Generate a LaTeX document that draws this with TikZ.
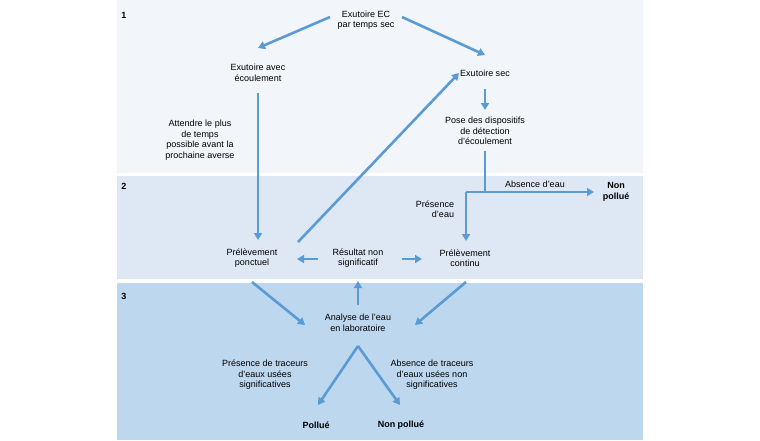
\documentclass[tikz,border=0pt]{standalone}
\usepackage{fontspec}
\setmainfont{Liberation Sans}
\usetikzlibrary{arrows.meta}
\definecolor{bA}{HTML}{F2F6FB}
\definecolor{bB}{HTML}{DEE8F4}
\definecolor{bC}{HTML}{BDD7EE}
\definecolor{arr}{HTML}{5B9BD5}
\begin{document}
\begin{tikzpicture}[x=1pt,y=-1pt,
  txt/.style={font=\fontsize{9}{10.5}\selectfont,align=center,inner sep=1pt},
  bold/.style={txt,font=\fontsize{9}{10.5}\selectfont\bfseries},
  ar/.style={draw=arr,line width=2.6pt,-{Triangle[length=7pt,width=8pt]}},
  ln/.style={draw=arr,line width=2.6pt}]
\useasboundingbox (0,0) rectangle (760,440);
\fill[white] (0,0) rectangle (760,440);
\fill[bA] (117,0) rectangle (643,173);
\fill[bB] (117,176) rectangle (643,279);
\fill[bC] (117,283) rectangle (643,440);
\node[bold] (n1) at (124,15) {1};
\node[bold] (n2) at (124,186) {2};
\node[bold] (n3) at (124,296) {3};
\node[txt] (ec) at (366,20) {Exutoire EC\\par temps sec};
\node[txt] (av) at (258,73) {Exutoire avec\\écoulement};
\node[txt] (sec) at (485,73) {Exutoire sec};
\node[txt] (pose) at (485,131) {Pose des dispositifs\\de détection\\d’écoulement};
\node[txt] (att) at (200,140) {Attendre le plus\\de temps\\possible avant la\\prochaine averse};
\node[txt] (pp) at (252,258) {Prélèvement\\ponctuel};
\node[txt] (rn) at (358,258) {Résultat non\\significatif};
\node[txt] (pc) at (465,258) {Prélèvement\\continu};
\node[txt,align=right] (pe) at (435,209) {Présence\\d’eau};
\node[txt] (ae) at (535,184) {Absence d’eau};
\node[bold] (np1) at (616,192) {Non\\pollué};
\node[txt] (an) at (358,323) {Analyse de l’eau\\en laboratoire};
\node[txt] (pt) at (265,375) {Présence de traceurs\\d’eaux usées\\significatives};
\node[txt] (at) at (432,375) {Absence de traceurs\\d’eaux usées non\\significatives};
\node[bold] (po) at (316,425) {Pollué};
\node[bold] (np2) at (401,425) {Non pollué};
\coordinate (c1) at (485,192);
\coordinate (c2) at (466,192);
\draw[ar] (330,17) -- (258,48);
\draw[ar] (402,17) -- (485,55);
\draw[ar] (258,93) -- (258,240);
\draw[ar] (298,242) -- (sec.west);
\draw[ar] (485,89) -- (485,110);
\draw[ln] (485,151) -- (c1);
\draw[ar] (c2) -- (594,192);
\draw[ar] (c2) -- (466,241);
\draw[ar] (318,259) -- (297,259);
\draw[ar] (402,259) -- (422,259);
\draw[ar] (252,282) -- (305,325);
\draw[ar] (466,282) -- (415,325);
\draw[ar] (358,305) -- (358,281);
\draw[ar] (358,346) -- (318,405);
\draw[ar] (358,346) -- (400,405);
\end{tikzpicture}
\end{document}
